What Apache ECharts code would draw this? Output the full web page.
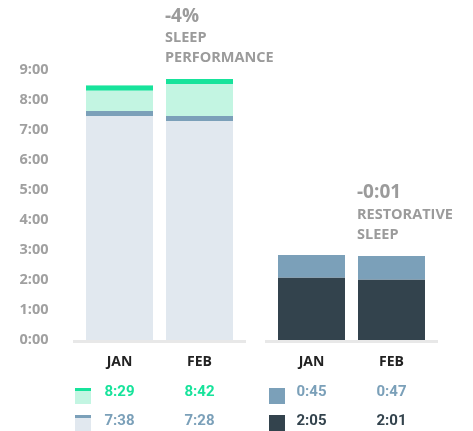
<!DOCTYPE html>
<html>
<head>
<meta charset="utf-8">
<style>
html, body { margin: 0; padding: 0; background: #fff; }
#main { width: 473px; height: 431px; }
</style>
<script src="https://cdn.jsdelivr.net/npm/echarts@6/dist/echarts.min.js"></script>
</head>
<body>
<div id="main"></div>
<script>
// 数据
var months = ['JAN', 'FEB'];
var sleepNeed = ['8:29', '8:42'];      // 绿色
var hoursOfSleep = ['7:38', '7:28'];   // 浅灰
var remSleep = ['0:45', '0:47'];       // 蓝灰
var deepSleep = ['2:05', '2:01'];      // 深色
var yTicks = ['0:00', '1:00', '2:00', '3:00', '4:00', '5:00', '6:00', '7:00', '8:00', '9:00'];
var perfChange = '-4%';
var perfTitle = 'SLEEP\nPERFORMANCE';
var restChange = '-0:01';
var restTitle = 'RESTORATIVE\nSLEEP';

var GREEN = '#17e39b', MINT = '#c3f5e2', GREY = '#e1e8ef', STEEL = '#7ba0b9', DARK = '#33434d';
var TEXT_FONT = 'Open Sans';
var NUM_FONT = 'Roboto';

function toHours(s) {
    var p = s.split(':');
    return +p[0] + (+p[1]) / 60;
}

var sleepH = hoursOfSleep.map(toHours);
var needH = sleepNeed.map(toHours);
var needExtra = needH.map(function (v, i) { return v - sleepH[i]; });

var chart = echarts.init(document.getElementById('main'));

// 柱顶的细线
function capItem(color) {
    return function (params, api) {
        var p = api.coord([api.value(0), api.value(1)]);
        return {
            type: 'rect',
            shape: { x: p[0] - 33.5, y: p[1], width: 67, height: 5 },
            style: { fill: color }
        };
    };
}

function catAxis(grid, data) {
    return {
        type: 'category', gridIndex: grid, data: data,
        axisLine: { show: false }, axisTick: { show: false },
        axisLabel: { margin: 8, color: '#222', fontSize: 14, fontWeight: 'bold', fontFamily: TEXT_FONT },
        offset: 7
    };
}

function rowAxis(grid, data, color, offset) {
    return {
        type: 'category', gridIndex: grid, data: data, position: 'bottom', offset: offset,
        axisLine: { show: false }, axisTick: { show: false },
        axisLabel: { margin: 8, color: color, fontSize: 15, fontWeight: 'bold', fontFamily: NUM_FONT }
    };
}

function valAxis(grid, showLabel) {
    return {
        type: 'value', gridIndex: grid, min: 0, max: 9, interval: 1,
        axisLine: { show: false }, axisTick: { show: false }, splitLine: { show: false },
        axisLabel: {
            show: showLabel, margin: 31, color: '#a0a0a0', fontSize: 14.5, fontWeight: 'bold',
            fontFamily: TEXT_FONT, padding: [0, 0, 5, 0],
            formatter: function (v) { return yTicks[v]; }
        }
    };
}

function label(x, y, text, size, lh) {
    return {
        type: 'text', x: x, y: y, z: 10,
        style: {
            text: text, fill: '#9b9b9b', fontSize: size, fontWeight: 'bold',
            fontFamily: TEXT_FONT, lineHeight: lh
        }
    };
}

function box(x, y, fill, topColor) {
    var g = [{ type: 'rect', shape: { x: x, y: y, width: 16, height: 16 }, style: { fill: fill } }];
    if (topColor) {
        g.push({ type: 'rect', shape: { x: x, y: y, width: 16, height: 3 }, style: { fill: topColor } });
    }
    return g;
}

chart.setOption({
    animation: false,
    grid: [
        { left: 79.5, width: 160, top: 70, height: 270 },
        { left: 271.5, width: 160, top: 70, height: 270 }
    ],
    xAxis: [
        catAxis(0, months),
        rowAxis(0, sleepNeed, GREEN, 37),
        rowAxis(0, hoursOfSleep, STEEL, 66),
        catAxis(1, months),
        rowAxis(1, remSleep, STEEL, 37),
        rowAxis(1, deepSleep, DARK, 66)
    ],
    yAxis: [valAxis(0, true), valAxis(1, false)],
    series: [
        { type: 'bar', stack: 'left', xAxisIndex: 0, yAxisIndex: 0, barWidth: 67, data: sleepH, itemStyle: { color: GREY } },
        { type: 'bar', stack: 'left', xAxisIndex: 0, yAxisIndex: 0, barWidth: 67, data: needExtra, itemStyle: { color: MINT } },
        {
            type: 'custom', xAxisIndex: 0, yAxisIndex: 0, z: 3, renderItem: capItem(STEEL),
            data: sleepH.map(function (v, i) { return [i, v]; })
        },
        {
            type: 'custom', xAxisIndex: 0, yAxisIndex: 0, z: 3, renderItem: capItem(GREEN),
            data: needH.map(function (v, i) { return [i, v]; })
        },
        { type: 'bar', stack: 'right', xAxisIndex: 3, yAxisIndex: 1, barWidth: 67, data: deepSleep.map(toHours), itemStyle: { color: DARK } },
        { type: 'bar', stack: 'right', xAxisIndex: 3, yAxisIndex: 1, barWidth: 67, data: remSleep.map(toHours), itemStyle: { color: STEEL } }
    ],
    graphic: [
        { type: 'rect', shape: { x: 73, y: 340, width: 173, height: 3 }, style: { fill: '#e8e8e8' } },
        { type: 'rect', shape: { x: 265, y: 340, width: 173, height: 3 }, style: { fill: '#e8e8e8' } },
        label(165, 6, perfChange, 19, 22),
        label(165, 28, perfTitle, 14.5, 20),
        label(357, 182, restChange, 19, 22),
        label(357, 205, restTitle, 14.5, 20)
    ].concat(
        box(75, 388, MINT, GREEN),
        box(75, 415, GREY, STEEL),
        box(269, 388, STEEL),
        box(269, 415, DARK)
    )
});
</script>
</body>
</html>
